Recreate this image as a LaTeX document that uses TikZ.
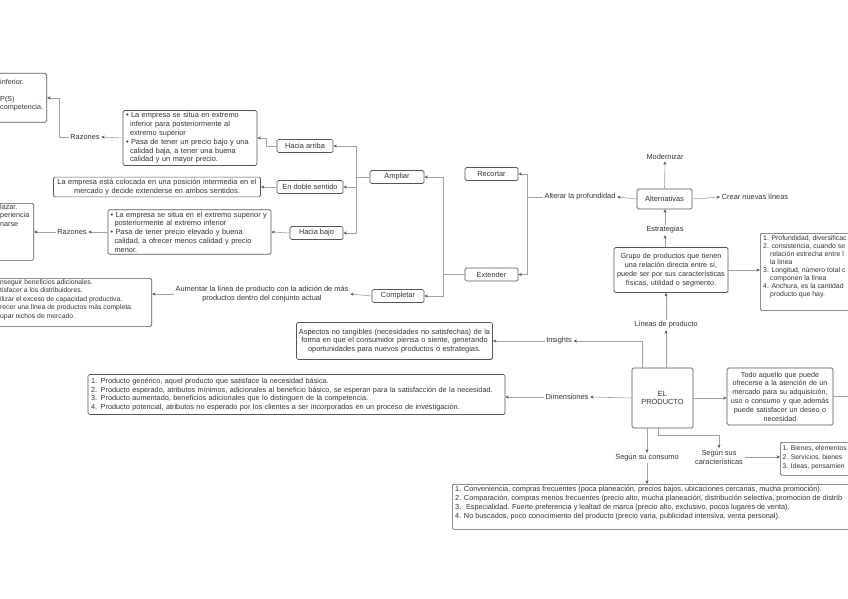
\documentclass[tikz,border=0pt]{standalone}
\usepackage{fontspec}
\setmainfont{Liberation Sans}
\usetikzlibrary{arrows.meta}
\definecolor{boxc}{HTML}{555555}
\definecolor{linec}{HTML}{A0A0A0}
\definecolor{arrc}{HTML}{555555}
\definecolor{txtc}{HTML}{333333}
\newcommand{\fsz}{\fontsize{7.4}{8.8}\selectfont}
\newcommand{\fszs}{\fontsize{6.8}{8.5}\selectfont}
\newcommand{\fszm}{\fontsize{7.3}{8.6}\selectfont}
\newcommand{\fszr}{\fontsize{6.9}{8}\selectfont}
\begin{document}
\begin{tikzpicture}[x=1pt,y=-1pt,
  every node/.style={font=\fsz, text=txtc},
  box/.style={draw=boxc, line width=0.7pt, rounded corners=1.5pt, fill=white, inner xsep=3pt, inner ysep=2pt},
  sbox/.style={box, minimum height=13pt, inner ysep=1pt},
  lbl/.style={inner sep=1.5pt},
  frag/.style={inner sep=0pt, align=left, anchor=north west},
  ln/.style={draw=linec, line width=0.6pt},
  conn/.style={ln, -{Stealth[length=3.5pt,width=3pt,color=arrc]}}
]
\useasboundingbox (0,0) rectangle (848,599);
\fill[white] (0,0) rectangle (848,599);
\clip (0,0) rectangle (848,599);

% left side
\node[box, anchor=north east, minimum width=70pt, minimum height=49pt] (tl) at (47,73) {};
\node[frag, font=\fontsize{7.2}{8.3}\selectfont] (tlt) at (0,79) {inferior.\\[8.3pt]P(S)\\competencia.};
\node[lbl] (r1) at (85,137) {Razones};
\node[box, text width=128pt, align=left] (b1) at (190,138) {\textbullet\ La empresa se situa en extremo\\\hspace*{4pt}inferior para posteriormente al\\\hspace*{4pt}extremo superior\\\textbullet\ Pasa de tener un precio bajo y una\\\hspace*{4pt}calidad baja, a tener una buena\\\hspace*{4pt}calidad y un mayor precio.};
\node[sbox, minimum width=56pt] (ha) at (305,146) {Hacia arriba};
\node[sbox, minimum width=66pt] (eds) at (310,187) {En doble sentido};
\node[sbox, minimum width=53pt] (hb) at (316.5,233) {Hacia bajo};
\node[sbox, minimum width=54pt] (amp) at (397,177) {Ampliar};
\node[sbox, minimum width=52pt] (cmp) at (398,296) {Completar};
\node[box, text width=201pt, align=center] (bd) at (157,187) {La empresa está colocada en una posición intermedia en el\\mercado y decide extenderse en ambos sentidos.};
\node[box, text width=158pt, align=left, inner xsep=2.5pt] (b2) at (189.5,232) {\textbullet\ La empresa se situa en el extremo superior y\\\hspace*{4pt}posteriormente al extremo inferior\\\textbullet\ Pasa de tener precio elevado y buena\\\hspace*{4pt}calidad, a ofrecer menos calidad y precio\\\hspace*{4pt}menor.};
\node[lbl] (r2) at (72,232) {Razones};
\node[box, anchor=north east, minimum width=60pt, minimum height=57pt] (lb2) at (34,203) {};
\node[frag, font=\fontsize{7.2}{8.3}\selectfont] (lb2t) at (0,204) {lazar.\\periencia\\narse};
\node[lbl, align=center] (aum) at (262,294) {Aumentar la línea de producto con la adición de más\\productos dentro del conjunto actual};
\node[box, anchor=north east, minimum width=170pt, minimum height=48pt] (lb3) at (152,278) {};
\node[frag, font=\fszs] (lb3t) at (0,279) {nseguir beneficios adicionales.\\tisfacer a los distribuidores.\\ilizar el exceso de capacidad productiva.\\recer una línea de productos más completa.\\upar nichos de mercado.};

% middle
\node[sbox, minimum width=53pt] (rec) at (491.5,174) {Recortar};
\node[sbox, minimum width=53pt] (ext) at (491.5,274.5) {Extender};
\node[lbl] (alt) at (580,197) {Alterar la profundidad};
\node[box, minimum width=55pt, minimum height=20pt] (alts) at (664.5,199) {Alternativas};
\node[lbl] (mod) at (665,157) {Modernizar};
\node[lbl] (crear) at (755,197) {Crear nuevas líneas};
\node[lbl] (est) at (665,230) {Estrategias};
\node[box, text width=112pt, align=center, inner xsep=1pt, minimum height=45pt, font=\fontsize{7.2}{8.8}\selectfont] (grp) at (671,270) {Grupo de productos que tienen\\una relación directa entre sí,\\puede ser por sus características\\físicas, utilidad o segmento.};
\node[box, anchor=north west, minimum width=120pt, minimum height=77pt] (rb) at (760,233) {};
\node[frag, font=\fszr] (rbt) at (763,235) {1. Profundidad, diversificac\\2. consistencia, cuando se\\\hspace*{7pt}relación estrecha entre l\\\hspace*{7pt}la línea\\3. Longitud, número total c\\\hspace*{7pt}componen la línea\\4. Anchura, es la cantidad\\\hspace*{7pt}producto que hay.};
\node[lbl] (lp) at (666,325) {Líneas de producto};
\node[lbl] (ins) at (559,341) {Insights};
\node[box, text width=192pt, align=center, inner xsep=2pt, minimum height=37pt] (asp) at (394.5,341) {Aspectos no tangibles (necesidades no satisfechas) de la\\forma en que el consumidor piensa o siente, generando\\oportunidades para nuevos productos o estrategias.};
\node[box, minimum width=61pt, minimum height=60pt, align=center] (prod) at (662.5,398) {EL\\PRODUCTO};
\node[box, text width=104pt, align=center, inner xsep=1pt, minimum height=57pt, font=\fontsize{7.2}{8.8}\selectfont] (todo) at (780,396.5) {Todo aquello que puede\\ofrecerse a la atención de un\\mercado para su adquisición,\\uso o consumo y que además\\puede satisfacer un deseo o\\necesidad};
\coordinate (redge) at (848,396.5);
\node[lbl] (dim) at (567,397) {Dimensiones};
\node[box, text width=411pt, align=left, font=\fszm, minimum height=40pt] (dimb) at (296.5,394.5) {1. Producto genérico, aquel producto que satisface la necesidad básica.\\2. Producto esperado, atributos mínimos, adicionales al beneficio básico, se esperan para la satisfacción de la necesidad.\\3. Producto aumentado, beneficios adicionales que lo distinguen de la competencia.\\4. Producto potencial, atributos no esperado por los clientes a ser incorporados en un proceso de investigación.};
\node[lbl] (ssc) at (647,458) {Según su consumo};
\node[lbl, align=center] (ssca) at (719,457) {Según sus\\características};
\node[box, anchor=north west, minimum width=90pt, minimum height=33pt] (bn) at (780,442) {};
\node[frag, font=\fontsize{6.8}{9}\selectfont] (bnt) at (782.5,445) {1. Bienes, elementos\\2. Servicios, bienes\\3. Ideas, pensamien};
\node[box, anchor=north west, minimum width=420pt, minimum height=45pt] (cons) at (452,484) {};
\node[frag, font=\fontsize{7.3}{9}\selectfont] (const) at (455,486) {1. Conveniencia, compras frecuentes (poca planeación, precios bajos, ubicaciones cercanas, mucha promoción).\\2. Comparación, compras menos frecuentes (precio alto, mucha planeación, distribución selectiva, promocion de distrib\\3. \ Especialidad. Fuerte preferencia y lealtad de marca (precio alto, exclusivo, pocos lugares de venta).\\4. No buscados, poco conocimiento del producto (precio varia, publicidad intensiva, venta personal).};

% connectors
\coordinate (jA) at (356,177);
\draw[ln] (amp.west) -- (jA);
\draw[conn] (jA) |- (ha.east);
\draw[conn] (jA) |- (eds.east);
\draw[conn] (jA) |- (hb.east);
\draw[conn] (ha.west) -- ++(-10,0) |- (b1.east);
\draw[conn] (b1.west) -- (r1.east);
\draw[conn] (r1.west) -- ++(-9,0) |- (tl.east);
\draw[conn] (eds.west) -- (bd.east);
\draw[conn] (hb.west) -- (b2.east);
\draw[conn] (b2.west) -- (r2.east);
\draw[conn] (r2.west) -- (r2.west -| lb2.east);
\draw[conn] (cmp.west) -- (aum.east);
\draw[conn] (aum.west) -- (aum.west -| lb3.east);
\coordinate (jB) at (443,274.5);
\draw[ln] (ext.west) -- (jB);
\draw[conn] (jB) |- (amp.east);
\draw[conn] (jB) |- (cmp.east);
\coordinate (jC) at (527,197);
\draw[ln] (alt.west) -- (jC);
\draw[conn] (jC) |- (rec.east);
\draw[conn] (jC) |- (ext.east);
\draw[conn] (alts.west) -- (alt.east);
\draw[conn] (alts.north) -- (mod.south);
\draw[conn] (alts.east) -- (crear.west);
\draw[conn] (est.north) -- (est.north |- alts.south);
\draw[conn] (grp.north -| est.south) -- (est.south);
\draw[conn] (lp.north) -- (lp.north |- grp.south);
\draw[conn] (lp.south |- prod.north) -- (lp.south);
\draw[conn] ([xshift=-20pt]prod.north) |- (ins.east);
\draw[conn] (ins.west) -- (ins.west -| asp.east);
\draw[conn] (grp.east) -- (grp.east -| rb.west);
\draw[conn] (prod.east) -- (prod.east -| todo.west);
\draw[ln] (todo.east) -- (redge);
\draw[conn] (prod.west) -- (dim.east);
\draw[conn] (dim.west) -- (dim.west -| dimb.east);
\draw[conn] (ssc.north |- prod.south) -- (ssc.north);
\draw[conn] ([xshift=-4pt]prod.south) -- ++(0,7) -| (ssca.north);
\draw[conn] (ssca.east) -- (ssca.east -| bn.west);
\draw[conn] (ssc.south) -- (ssc.south |- cons.north);
\end{tikzpicture}
\end{document}
